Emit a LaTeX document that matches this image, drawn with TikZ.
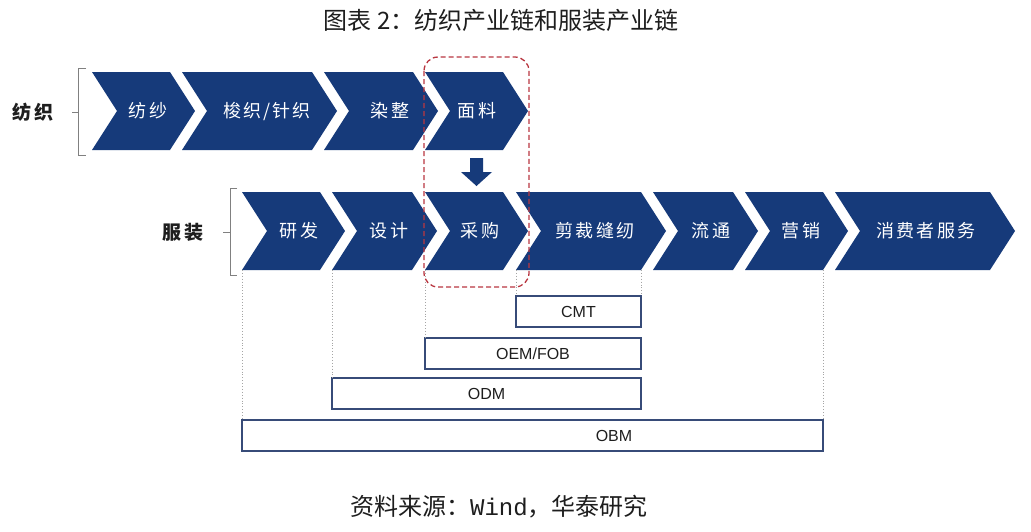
\documentclass[tikz,border=0pt]{standalone}
\usepackage{fontspec}
\setmainfont{Liberation Sans}
\newfontfamily\cjk{Noto Sans CJK SC}
\newfontfamily\cjkls[LetterSpace=12]{Noto Sans CJK SC}
\newfontfamily\monofam{Liberation Mono}
\definecolor{navy}{RGB}{22,58,122}
\definecolor{boxblue}{RGB}{55,75,120}
\definecolor{dotgray}{RGB}{165,165,165}
\definecolor{hlred}{RGB}{185,55,65}
\definecolor{txt}{RGB}{30,30,30}
\newcommand\chevron[6]{%
  \fill[navy] (#2,#4-39) -- (#3,#4-39) -- (#3+25,#4) -- (#3,#4+39) -- (#2,#4+39) -- (#2+25,#4) -- cycle;
  \coordinate (#1-bl) at (#2,#4+39);
  \coordinate (#1-br) at (#3,#4+39);
  \node[chevtext] (#1) at (#5,#4) {#6};
}
\begin{document}
\begin{tikzpicture}[x=1pt,y=-1pt,
  chevtext/.style={text=white,font=\cjkls\fontsize{18}{18}\selectfont,inner sep=0pt},
  rowlabel/.style={text=txt,font=\cjkls\bfseries\fontsize{19}{19}\selectfont,inner sep=0pt},
  box/.style={draw=boxblue,line width=1.3pt,minimum height=31pt,inner sep=0pt,outer sep=0pt,anchor=north west,text=txt,font=\fontsize{16}{16}\selectfont},
  guide/.style={draw=dotgray,dotted,line width=0.9pt},
  brace/.style={draw=gray,line width=0.8pt},
  caption/.style={text=txt,font=\cjk\fontsize{24}{24}\selectfont,inner sep=0pt}]
\useasboundingbox (0,0) rectangle (1031,531);
\fill[white] (0,0) rectangle (1031,531);

% title and source
\node[caption] (title) at (501,20) {图表 2：纺织产业链和服装产业链};
\node[caption] (source) at (499,507) {资料来源：{\monofam Wind}，华泰研究};

% row labels and brackets
\node[rowlabel] (lblA) at (33,112) {纺织};
\node[rowlabel] (lblB) at (183,232) {服装};
\draw[brace] (86,68) -- (78,68) -- (78,155) -- (86,155);
\draw[brace] (72,112) -- (78,112);
\draw[brace] (237,188) -- (230,188) -- (230,275) -- (237,275);
\draw[brace] (223,232) -- (230,232);

% top row
\chevron{fangsha}{92}{170}{111}{148}{纺纱}
\chevron{suozhi}{182}{312}{111}{267}{梭织/针织}
\chevron{ranzheng}{324}{413}{111}{390}{染整}
\chevron{mianliao}{425}{503}{111}{477}{面料}

% bottom row
\chevron{yanfa}{242}{320}{231}{299}{研发}
\chevron{sheji}{332}{412}{231}{389}{设计}
\chevron{caigou}{425}{503}{231}{480}{采购}
\chevron{jiancai}{516}{641}{231}{595}{剪裁缝纫}
\chevron{liutong}{653}{733}{231}{711}{流通}
\chevron{yingxiao}{745}{823}{231}{801}{营销}
\chevron{xiaofei}{835}{990}{231}{926}{消费者服务}

% arrow from fabric to purchasing
\fill[navy] (470,158) -- (483,158) -- (483,172) -- (492,172) -- (476.5,186) -- (461,172) -- (470,172) -- cycle;

% business model boxes
\node[box,minimum width=125pt] (cmt) at (516,296) {CMT};
\node[box,minimum width=216pt] (oem) at (425,338) {OEM/FOB};
\node[box,minimum width=309pt] (odm) at (332,378) {ODM};
\node[box,minimum width=581pt] (obm) at (242,420) {};
\node[text=txt,font=\fontsize{16}{16}\selectfont,inner sep=0pt] (obmtext) at (614,435.5) {OBM};

% guide lines
\draw[guide] (yanfa-bl) -- (yanfa-bl |- obm.north);
\draw[guide] (sheji-bl) -- (sheji-bl |- odm.north);
\draw[guide] (caigou-bl) -- (caigou-bl |- oem.north);
\draw[guide] (jiancai-bl) -- (jiancai-bl |- cmt.north);
\draw[guide] (jiancai-br) -- (jiancai-br |- cmt.north);
\draw[guide] (yingxiao-br) -- (yingxiao-br |- obm.north);

% highlight frame
\draw[hlred,dashed,dash pattern=on 5pt off 3pt,line width=1.3pt,rounded corners=14pt] (424,57) rectangle (529,287);
\end{tikzpicture}
\end{document}
